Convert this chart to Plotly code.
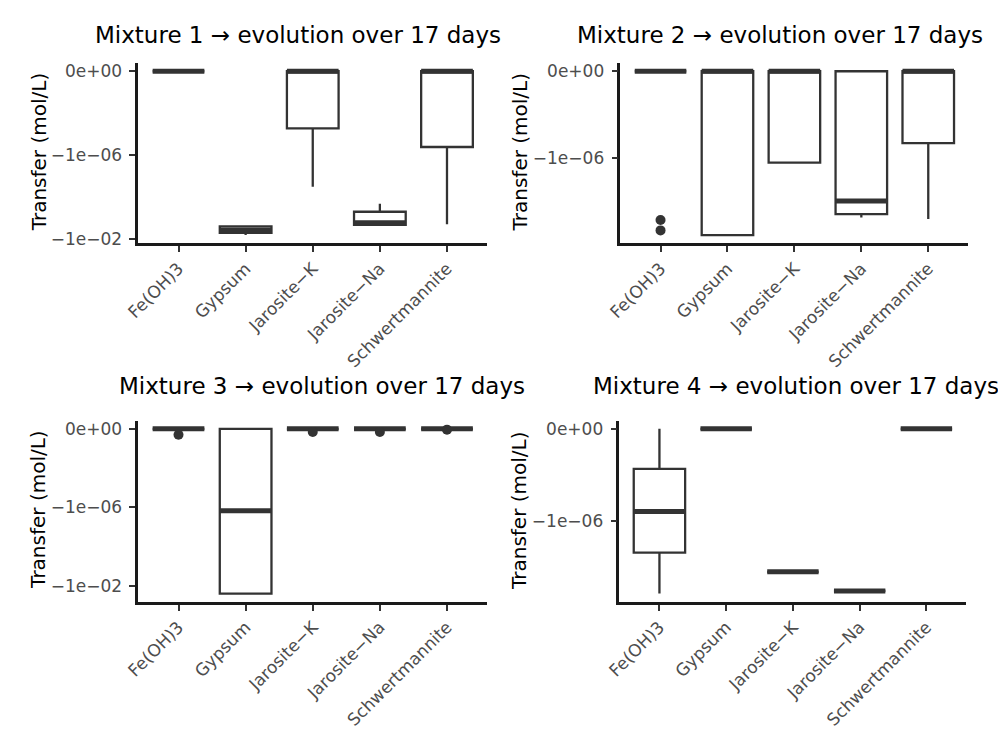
import numpy as np
import plotly.graph_objects as go

# Mineral phases on the x axis
minerals = ["Fe(OH)3", "Gypsum", "Jarosite-K", "Jarosite-Na", "Schwertmannite"]
tick_labels = ["Fe(OH)3", "Gypsum", "Jarosite\u2212K", "Jarosite\u2212Na", "Schwertmannite"]

# Box statistics per mixture (mol/L): lower fence, q1, median, q3, upper fence
m1_lower = [0.0, -6.2e-3, -3.1e-5, -2.0e-3, -1.9e-3]
m1_q1 = [0.0, -4.9e-3, -5.2e-8, -2.0e-3, -4.0e-7]
m1_median = [0.0, -3.55e-3, 0.0, -1.6e-3, 0.0]
m1_q3 = [0.0, -2.4e-3, 0.0, -4.8e-4, 0.0]
m1_upper = [0.0, -2.4e-3, 0.0, -2.0e-4, 0.0]
m1_out_x = []
m1_out_y = []

m2_lower = [0.0, -3.8e-3, -1.7e-6, -5.8e-4, -6.8e-4]
m2_q1 = [0.0, -3.8e-3, -1.7e-6, -4.1e-4, -2.1e-7]
m2_median = [0.0, 0.0, 0.0, -1.0e-4, 0.0]
m2_q3 = [0.0, 0.0, 0.0, 0.0, 0.0]
m2_upper = [0.0, 0.0, 0.0, 0.0, 0.0]
m2_out_x = ["Fe(OH)3", "Fe(OH)3"]
m2_out_y = [-7.6e-4, -2.3e-3]

m3_lower = [0.0, -2.5e-2, 0.0, 0.0, 0.0]
m3_q1 = [0.0, -2.5e-2, 0.0, 0.0, 0.0]
m3_median = [0.0, -1.5e-6, 0.0, 0.0, 0.0]
m3_q3 = [0.0, 0.0, 0.0, 0.0, 0.0]
m3_upper = [0.0, 0.0, 0.0, 0.0, 0.0]
m3_out_x = ["Fe(OH)3", "Jarosite-K", "Jarosite-Na", "Schwertmannite"]
m3_out_y = [-1.0e-10, -4.5e-11, -4.5e-11, -1.0e-11]

m4_lower = [-1.3e-3, 0.0, -1.5e-4, -1.0e-3, 0.0]
m4_q1 = [-2.2e-5, 0.0, -1.5e-4, -1.0e-3, 0.0]
m4_median = [-3.7e-7, 0.0, -1.5e-4, -1.0e-3, 0.0]
m4_q3 = [-5.3e-9, 0.0, -1.5e-4, -1.0e-3, 0.0]
m4_upper = [0.0, 0.0, -1.5e-4, -1.0e-3, 0.0]
m4_out_x = []
m4_out_y = []

y_breaks = [0.0, -1e-6, -1e-2]
y_break_labels = ["0e+00", "\u22121e\u221206", "\u22121e\u221202"]

SIGMA = 1e-10


def pseudo_log(v):
    v = np.asarray(v, dtype=float)
    return np.sign(v) * np.log10(1.0 + np.abs(v) / SIGMA)


panels = [
    ("Mixture 1 \u2192 evolution over 17 days", m1_lower, m1_q1, m1_median, m1_q3, m1_upper, m1_out_x, m1_out_y),
    ("Mixture 2 \u2192 evolution over 17 days", m2_lower, m2_q1, m2_median, m2_q3, m2_upper, m2_out_x, m2_out_y),
    ("Mixture 3 \u2192 evolution over 17 days", m3_lower, m3_q1, m3_median, m3_q3, m3_upper, m3_out_x, m3_out_y),
    ("Mixture 4 \u2192 evolution over 17 days", m4_lower, m4_q1, m4_median, m4_q3, m4_upper, m4_out_x, m4_out_y),
]

W, H = 998, 730
# plot-area rectangles in pixels: (left, right, top, bottom)
rects = [(126, 480, 62, 245), (615, 968, 62, 245), (126, 480, 425, 609), (614, 966, 425, 609)]
title_pos = [(288, 33), (777, 33), (312, 390), (793, 390)]
ytitle_pos = [(25, 152), (513, 152), (25, 515), (512, 516)]

FONT = "DejaVu Sans"
INK = "#333333"
BOX_W = 0.77

fig = go.Figure()
layout = dict(
    width=W, height=H, margin=dict(l=0, r=0, t=0, b=0),
    paper_bgcolor="white", plot_bgcolor="white",
    showlegend=False, boxmode="overlay", font=dict(family=FONT),
    annotations=[],
)

xs = list(range(len(minerals)))
for k, (title, lo, q1, med, q3, up, ox, oy) in enumerate(panels):
    ax = "" if k == 0 else str(k + 1)
    xref, yref = "x" + ax, "y" + ax

    fig.add_trace(go.Box(
        x=xs, q1=pseudo_log(q1), median=pseudo_log(med), q3=pseudo_log(q3),
        lowerfence=pseudo_log(lo), upperfence=pseudo_log(up),
        width=BOX_W, whiskerwidth=0, boxpoints=False,
        line=dict(color=INK, width=2.3), fillcolor="white",
        xaxis=xref, yaxis=yref, hoverinfo="skip",
    ))

    # thicker median bars
    mx, my = [], []
    for i, m in zip(xs, pseudo_log(med)):
        mx += [i - BOX_W / 2, i + BOX_W / 2, None]
        my += [m, m, None]
    fig.add_trace(go.Scatter(
        x=mx, y=my, mode="lines", line=dict(color=INK, width=5),
        xaxis=xref, yaxis=yref, hoverinfo="skip",
    ))

    if ox:
        fig.add_trace(go.Scatter(
            x=[minerals.index(c) for c in ox], y=pseudo_log(oy), mode="markers",
            marker=dict(color=INK, size=10), xaxis=xref, yaxis=yref, hoverinfo="skip",
        ))

    # ggplot-style 5% expansion of the data range
    vals = np.concatenate([pseudo_log(lo), pseudo_log(up), pseudo_log(oy) if oy else []])
    dmin, dmax = vals.min(), vals.max()
    span = dmax - dmin
    yr = [dmin - 0.05 * span, dmax + 0.05 * span]

    left, right, top, bottom = rects[k]
    axis_common = dict(
        showline=True, linecolor="#1a1a1a", linewidth=2.5, mirror=False,
        ticks="outside", ticklen=6, tickwidth=2.2, tickcolor=INK,
        showgrid=False, zeroline=False, fixedrange=True,
    )
    layout["xaxis" + ax] = dict(
        domain=[left / W, right / W], range=[-0.6, len(minerals) - 0.4],
        tickmode="array", tickvals=xs, ticktext=tick_labels, tickangle=-45,
        tickfont=dict(size=17, color="#4d4d4d", family=FONT),
        anchor=yref, **axis_common,
    )
    layout["yaxis" + ax] = dict(
        domain=[1 - bottom / H, 1 - top / H], range=yr,
        tickmode="array", tickvals=list(pseudo_log(y_breaks)), ticktext=y_break_labels,
        tickfont=dict(size=17, color="#4d4d4d", family=FONT), ticklabelstandoff=4,
        anchor=xref, **axis_common,
    )

    tx, ty = title_pos[k]
    layout["annotations"].append(dict(
        text=title, x=tx / W, y=1 - ty / H, xref="paper", yref="paper",
        xanchor="center", yanchor="middle", showarrow=False,
        font=dict(size=23, color="black", family=FONT),
    ))
    yx, yy = ytitle_pos[k]
    layout["annotations"].append(dict(
        text="Transfer (mol/L)", x=yx / W, y=1 - yy / H, xref="paper", yref="paper",
        xanchor="center", yanchor="middle", showarrow=False, textangle=-90,
        font=dict(size=20, color="black", family=FONT),
    ))

fig.update_layout(**layout)
fig.write_html("out.html")
